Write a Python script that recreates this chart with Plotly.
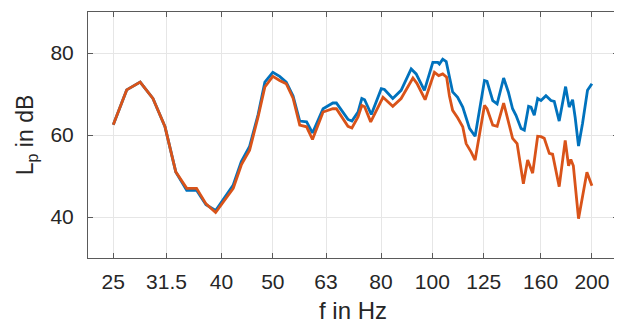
import plotly.graph_objects as go
import math

# Blue series (frequency in Hz, level in dB)
f_blue = [25, 26.5, 28.1, 29.7, 31.3, 32.8, 34.4, 35.9, 37.4, 39.0, 42.1, 43.6, 45.2, 46.9, 48.3,
          50.0, 51.5, 53.0, 54.6, 56.2, 57.9, 59.4, 62.2, 64.9, 65.9, 69.3, 70.5, 72.4, 73.6, 74.5,
          76.7, 80.1, 81.2, 84.2, 87.3, 91.2, 93.2, 96.6, 100.2, 102.4, 103.1, 104.6, 106.2, 107.7,
          109.2, 111.6, 114.1, 117.5, 120.4, 125.4, 126.8, 130.0, 132.5, 136.3, 139.1, 141.7, 143.8,
          147.0, 149.1, 151.9, 153.5, 155.7, 158.0, 160.3, 163.8, 167.4, 169.8, 173.5, 178.4, 181.2,
          183.9, 186.0, 188.7, 192.0, 196.2, 200]
L_blue = [62.5, 71.0, 72.9, 68.9, 62.0, 51.0, 46.5, 46.5, 43.0, 41.6, 47.8, 53.5, 57.2, 65.0, 72.9,
          75.3, 74.3, 72.9, 69.5, 63.4, 63.2, 60.5, 66.4, 67.8, 67.8, 63.8, 63.4, 65.6, 68.9, 68.6,
          65.0, 71.3, 71.1, 68.9, 70.9, 76.1, 74.9, 70.9, 77.7, 77.7, 77.3, 78.5, 77.9, 74.1,
          70.5, 69.2, 66.8, 61.6, 59.7, 73.3, 73.1, 68.4, 67.6, 73.9, 70.5, 66.4, 64.8,
          61.6, 61.2, 67.0, 66.8, 64.8, 68.9, 68.4, 69.6, 68.4, 68.2, 63.4, 71.8, 66.8,
          68.6, 64.2, 57.3, 62.8, 70.9, 72.5]

# Orange series
f_red = [25, 26.5, 28.1, 29.7, 31.3, 32.8, 34.4, 35.9, 37.4, 39.0, 42.1, 43.6, 45.2, 46.9, 48.3,
         50.0, 51.5, 53.0, 54.6, 56.2, 57.9, 59.4, 62.2, 64.9, 65.9, 69.3, 70.5, 72.4, 73.6, 74.5,
         76.5, 80.7, 84.2, 87.3, 91.9, 93.5, 96.9, 100.9, 102.8, 104.6, 106.4, 107.7, 109.2, 111.6,
         114.1, 115.8, 118.3, 120.4, 125.4, 126.8, 130.0, 132.5, 136.3, 139.1, 141.7, 144.5, 148.5,
         151.3, 154.6, 158.0, 160.3, 162.6, 166.2, 168.6, 173.5, 178.1, 180.7, 182.5, 184.5, 188.7,
         195.7, 200]
L_red = [62.5, 71.0, 72.9, 68.9, 62.0, 51.0, 47.0, 47.0, 43.2, 41.1, 47.0, 52.7, 56.3, 64.4, 71.7,
         74.3, 73.3, 72.5, 69.0, 62.4, 62.0, 58.9, 65.6, 66.4, 66.4, 62.1, 61.7, 64.4, 67.2, 66.9,
         63.2, 69.2, 67.0, 68.9, 73.9, 72.6, 68.6, 75.3, 74.5, 74.9, 74.1, 69.5, 66.0, 64.2,
         62.0, 57.9, 55.9, 53.9, 67.2, 66.4, 62.4, 62.1, 67.8, 63.6, 59.2, 57.9, 48.1,
         53.9, 50.7, 59.7, 59.6, 59.2, 55.5, 55.3, 47.4, 58.7, 52.5, 54.0, 52.5, 39.6,
         50.9, 47.6]

x_ticks = [25, 31.5, 40, 50, 63, 80, 100, 125, 160, 200]
x_tick_labels = ["25", "31.5", "40", "50", "63", "80", "100", "125", "160", "200"]
y_ticks = [40, 60, 80]
x_limits = [22.4, 224]
y_limits = [30, 90]

font = "Liberation Sans, Arial, Helvetica, sans-serif"
txt = "#262626"
axc = "#5a5a5a"

fig = go.Figure()
fig.add_trace(go.Scatter(x=f_blue, y=L_blue, mode="lines",
                         line=dict(color="#0072BD", width=2.8), showlegend=False))
fig.add_trace(go.Scatter(x=f_red, y=L_red, mode="lines",
                         line=dict(color="#D95319", width=2.8), showlegend=False))

# The page body has an 8 px margin, so the figure is sized to fit the window exactly.
fig.update_layout(
    width=614, height=316,
    margin=dict(l=80, r=4, t=4, b=66),
    paper_bgcolor="white", plot_bgcolor="white",
    font=dict(family=font, size=21, color=txt),
)
fig.update_xaxes(
    type="log", range=[math.log10(x_limits[0]), math.log10(x_limits[1])],
    tickvals=x_ticks, ticktext=x_tick_labels,
    showgrid=True, gridcolor="#e6e6e6", gridwidth=1,
    showline=True, linecolor=axc, linewidth=1, mirror="ticks",
    ticks="inside", ticklen=5, tickcolor=axc, ticklabelstandoff=5,
    tickfont=dict(size=21, color=txt), automargin=False,
    title=dict(text="f in Hz", font=dict(size=24, color=txt), standoff=13),
    zeroline=False,
)
fig.update_yaxes(
    range=y_limits, tickvals=y_ticks,
    showgrid=True, gridcolor="#e6e6e6", gridwidth=1,
    showline=True, linecolor=axc, linewidth=1, mirror="ticks",
    ticks="inside", ticklen=5, tickcolor=axc, ticklabelstandoff=9,
    tickfont=dict(size=21, color=txt), automargin=False,
    title=dict(text="L<sub>p</sub> in dB", font=dict(size=23, color=txt), standoff=10),
    zeroline=False,
)
fig.write_html("out.html")
